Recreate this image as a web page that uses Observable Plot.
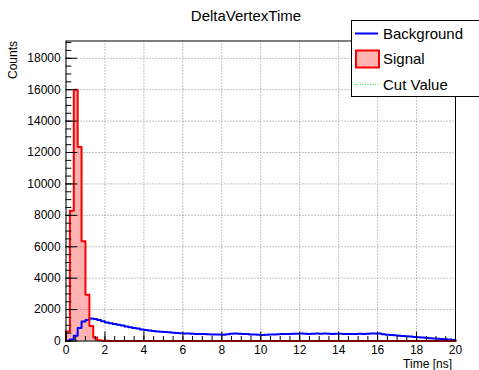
<!DOCTYPE html>
<html>
<head>
<meta charset="utf-8">
<script src="https://cdn.jsdelivr.net/npm/d3@7"></script>
<script src="https://cdn.jsdelivr.net/npm/@observablehq/plot@0.6"></script>
<style>
  body { margin: 0; background: #fff; }
  svg { display: block; }
</style>
</head>
<body>
<div id="chart"></div>
<script>
// DeltaVertexTime histograms: 100 bins of 0.2 ns from 0 to 20 ns
const binWidth = 0.2;

const signalCounts = [
  600, 8300, 16000, 12350, 6350, 2950, 960, 220, 50, 15,
  10, 6, 4, 3, 2, 2, 1, 1, 1, 1,
  0, 0, 0, 0, 0, 0, 0, 0, 0, 0,
  0, 0, 0, 0, 0, 0, 0, 0, 0, 0,
  0, 0, 0, 0, 0, 0, 0, 0, 0, 0,
  0, 0, 0, 0, 0, 0, 0, 0, 0, 0,
  0, 0, 0, 0, 0, 0, 0, 0, 0, 0,
  0, 0, 0, 0, 0, 0, 0, 0, 0, 0,
  0, 0, 0, 0, 0, 0, 0, 0, 0, 0,
  0, 0, 0, 0, 0, 0, 0, 0, 0, 0
];

const backgroundCounts = [
  15, 90, 330, 820, 1240, 1330, 1430, 1400, 1330, 1260,
  1180, 1130, 1080, 1030, 980, 930, 880, 830, 790, 740,
  700, 670, 640, 610, 590, 570, 550, 530, 510, 490,
  480, 470, 460, 450, 440, 440, 430, 420, 420, 410,
  400, 430, 460, 470, 460, 450, 440, 420, 410, 390,
  380, 400, 410, 420, 430, 440, 450, 450, 460, 460,
  470, 460, 450, 460, 470, 460, 470, 460, 450, 460,
  460, 450, 450, 440, 450, 460, 450, 460, 470, 480,
  470, 430, 400, 380, 360, 340, 320, 300, 280, 260,
  240, 220, 200, 180, 160, 140, 120, 110, 90, 70
];

const xTicks = [0, 2, 4, 6, 8, 10, 12, 14, 16, 18, 20];
const yTicks = [0, 2000, 4000, 6000, 8000, 10000, 12000, 14000, 16000, 18000];
const xMinorStep = 0.5;
const yMinorStep = 500;
const yMax = 19100;

const titleText = "DeltaVertexTime";
const xLabel = "Time [ns]";
const yLabel = "Counts";
const legendLabels = ["Background", "Signal", "Cut Value"];

// histogram helpers
function toBins(counts) {
  return counts.map((v, i) => ({x0: i * binWidth, x1: (i + 1) * binWidth, y: v}));
}
function outline(counts) {
  const pts = [{x: 0, y: 0}];
  counts.forEach((v, i) => pts.push({x: i * binWidth, y: v}));
  const xEnd = counts.length * binWidth;
  pts.push({x: xEnd, y: counts[counts.length - 1]});
  pts.push({x: xEnd, y: 0});
  return pts;
}

const signalBins = toBins(signalCounts);
const xMinor = d3.range(0, 20 + 1e-9, xMinorStep);
const yMinor = d3.range(0, yMax, yMinorStep);

const W = 479, H = 370;
const plot = Plot.plot({
  width: W,
  height: H,
  marginLeft: 65.5,
  marginRight: 24,
  marginTop: 40.5,
  marginBottom: 29.5,
  style: {fontFamily: "Liberation Sans, Arial, sans-serif", fontSize: "11px", color: "#000", background: "#fff"},
  x: {domain: [0, 20]},
  y: {domain: [0, yMax]},
  marks: [
    Plot.gridX(xTicks, {stroke: "#888", strokeOpacity: 1, strokeDasharray: "1,2"}),
    Plot.gridY(yTicks, {stroke: "#888", strokeOpacity: 1, strokeDasharray: "1,2"}),
    Plot.rect(signalBins, {x1: "x0", x2: "x1", y1: 0, y2: "y", fill: "#ff0000", fillOpacity: 0.3}),
    Plot.line(outline(backgroundCounts), {x: "x", y: "y", curve: "step-after", stroke: "#0000ff", strokeWidth: 2}),
    Plot.line(outline(signalCounts), {x: "x", y: "y", curve: "step-after", stroke: "#ff0000", strokeWidth: 2}),
    Plot.axisX({ticks: xMinor, tickSize: -4.5, text: null, label: null, stroke: "#000"}),
    Plot.axisX({ticks: xTicks, tickSize: -9, tickPadding: 13, tickFormat: d3.format("d"), label: null, fontSize: 12}),
    Plot.axisY({ticks: yMinor, tickSize: -5.8, text: null, label: null}),
    Plot.axisY({ticks: yTicks, tickSize: -11.7, tickPadding: 17, tickFormat: d3.format("d"), label: null, fontSize: 12}),
    Plot.frame({stroke: "#000", strokeWidth: 1})
  ]
});

const svg = d3.select(plot);
const font = "Liberation Sans, Arial, sans-serif";

// title
svg.append("text")
  .attr("x", 246).attr("y", 21)
  .attr("text-anchor", "middle")
  .attr("font-family", font).attr("font-size", 15)
  .attr("fill", "#000")
  .text(titleText);

// axis titles
svg.append("text")
  .attr("x", 452).attr("y", 367.5)
  .attr("text-anchor", "end")
  .attr("font-family", font).attr("font-size", 12)
  .text(xLabel);
svg.append("text")
  .attr("transform", "translate(17,41) rotate(-90)")
  .attr("text-anchor", "end")
  .attr("font-family", font).attr("font-size", 12)
  .text(yLabel);

// legend
const lg = svg.append("g");
lg.append("rect")
  .attr("x", 351.5).attr("y", 20.5).attr("width", 140).attr("height", 76)
  .attr("fill", "#fff").attr("stroke", "#000").attr("stroke-width", 1);
lg.append("line")
  .attr("x1", 355).attr("x2", 378).attr("y1", 33.5).attr("y2", 33.5)
  .attr("stroke", "#0000ff").attr("stroke-width", 2);
lg.append("rect")
  .attr("x", 356).attr("y", 50.5).attr("width", 23).attr("height", 17)
  .attr("fill", "#ff0000").attr("fill-opacity", 0.3)
  .attr("stroke", "#ff0000").attr("stroke-width", 2);
lg.append("line")
  .attr("x1", 355).attr("x2", 378).attr("y1", 84.5).attr("y2", 84.5)
  .attr("stroke", "#22dd22").attr("stroke-width", 1).attr("stroke-dasharray", "1,1.5");
legendLabels.forEach((t, i) => {
  lg.append("text")
    .attr("x", 383).attr("y", [38.5, 64, 89.5][i])
    .attr("text-anchor", "start")
    .attr("font-family", font).attr("font-size", 15)
    .attr("fill", "#000")
    .text(t);
});

document.getElementById("chart").appendChild(plot);
</script>
</body>
</html>
